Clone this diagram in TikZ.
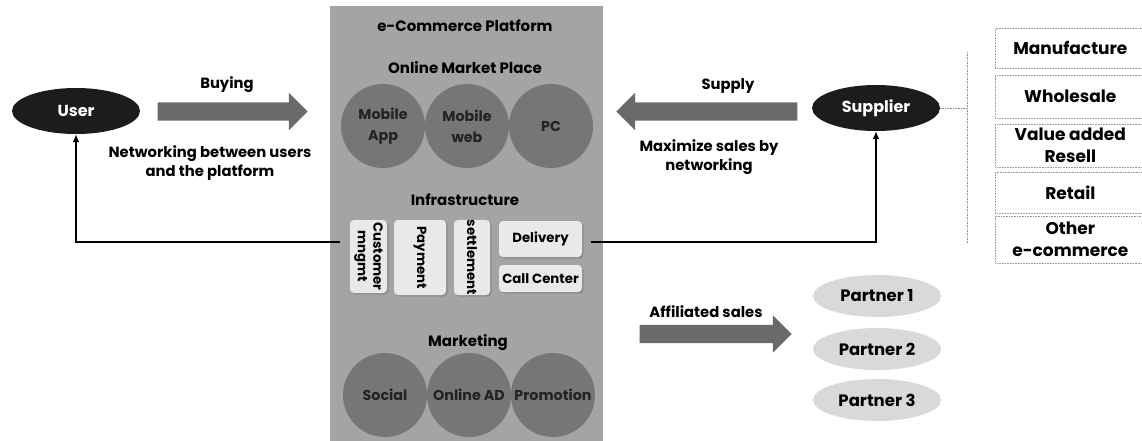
\documentclass[tikz,border=0pt]{standalone}
\usepackage{fontspec}
\setmainfont{Poppins}
\usetikzlibrary{shapes.geometric,shapes.arrows,shadows,arrows.meta}

\definecolor{platgray}{HTML}{A4A4A4}
\definecolor{ringgray}{HTML}{767676}
\definecolor{arrowgray}{HTML}{6A6A6A}
\definecolor{boxgray}{HTML}{E9E9E9}
\definecolor{partnergray}{HTML}{D9D9D9}
\definecolor{darkfill}{HTML}{1C1C1C}
\definecolor{ringtext}{HTML}{222222}

\begin{document}
\begin{tikzpicture}[x=1pt,y=-1pt,
  lbl/.style={font=\bfseries\fontsize{14.8}{19}\selectfont, align=center, inner sep=0pt},
  head/.style={font=\bfseries\fontsize{15}{18}\selectfont, inner sep=0pt},
  ring/.style={circle, fill=ringgray, minimum size=84pt, inner sep=0pt,
    font=\bfseries\fontsize{14.3}{21}\selectfont, text=ringtext, align=center},
  infobox/.style={rounded corners=4pt, fill=boxgray, inner sep=0pt,
    font=\bfseries\fontsize{13.3}{15.5}\selectfont, align=center,
    drop shadow={shadow xshift=1.5pt, shadow yshift=-1.5pt, fill=black!55}},
  party/.style={ellipse, fill=darkfill, text=white, minimum width=128pt,
    minimum height=46pt, inner sep=0pt, font=\bfseries\fontsize{16}{19}\selectfont},
  partner/.style={ellipse, fill=partnergray, minimum width=128pt,
    minimum height=42pt, inner sep=0pt, font=\bfseries\fontsize{16.5}{19}\selectfont},
  bigarrow/.style={single arrow, fill=arrowgray, inner sep=0pt, inner ysep=9pt,
    minimum width=0pt, single arrow head extend=9.5pt, single arrow tip angle=90},
  kindbox/.style={draw=black!40, densely dotted, line width=0.6pt,
    minimum width=150pt, anchor=west, inner sep=0pt,
    font=\bfseries\fontsize{17}{21.5}\selectfont, align=center},
  conn/.style={line width=1.6pt, -{Latex[length=8pt,width=7pt]}},
  dotline/.style={draw=black!45, densely dotted, line width=0.6pt}]
\useasboundingbox (0,0) rectangle (1142,440);

% platform panel
\node[fill=platgray, minimum width=273pt, minimum height=440pt, inner sep=0pt]
  (plat) at (466.5,226) {};
\node[head] (title) at (465,26) {e-Commerce Platform};
\node[head] (omp) at (465,68) {Online Market Place};
\node[ring] (mapp) at (383,126) {Mobile\\App};
\node[ring] (mweb) at (467,126) {Mobile\\web};
\node[ring] (pc) at (551,126) {PC};

\node[head] (infra) at (465,200) {Infrastructure};
\node[infobox, rotate=-90, minimum width=73pt, minimum height=37pt]
  (cust) at (368.5,256.5) {Customer\\mngmt};
\node[infobox, rotate=-90, minimum width=75pt, minimum height=52pt]
  (pay) at (420,257.5) {Payment};
\node[infobox, rotate=-90, minimum width=75pt, minimum height=36pt]
  (settle) at (472,257.5) {settlement};
\node[infobox, minimum width=83pt, minimum height=36pt]
  (deliv) at (540.5,239) {Delivery};
\node[infobox, minimum width=83pt, minimum height=27pt]
  (call) at (540.5,278.5) {Call Center};

\node[head] (mkt) at (468,343) {Marketing};
\node[ring] (social) at (385,395) {Social};
\node[ring] (oad) at (469,395) {Online AD};
\node[ring] (promo) at (553,395) {Promotion};

% user side
\node[party] (user) at (76,111) {User};
\node[bigarrow, minimum height=150pt] (buy) at (228,111.5) {};
\node[lbl] (buylbl) at (227,85) {Buying};
\node[lbl] (netlbl) at (210,163) {Networking between users\\and the platform};

% supplier side
\node[party] (sup) at (876,108) {Supplier};
\node[bigarrow, shape border rotate=180, minimum height=181pt] (supply) at (711.5,111.5) {};
\node[lbl] (suplbl) at (728,86) {Supply};
\node[lbl] (maxlbl) at (709,157) {Maximize sales by\\networking};

% affiliates
\node[bigarrow, minimum height=152pt] (aff) at (711,334) {};
\node[lbl] (afflbl) at (706,312) {Affiliated sales};
\node[partner] (p1) at (877,296) {Partner 1};
\node[partner] (p2) at (877,349) {Partner 2};
\node[partner] (p3) at (877,400) {Partner 3};

% supplier categories
\node[kindbox, minimum height=40pt] (k1) at (995,48) {Manufacture};
\node[kindbox, minimum height=43pt] (k2) at (995,96.5) {Wholesale};
\node[kindbox, minimum height=43pt] (k3) at (995,145.5) {Value added\\Resell};
\node[kindbox, minimum height=41pt] (k4) at (995,192.5) {Retail};
\node[kindbox, minimum height=47pt] (k5) at (995,239.5) {Other\\e-commerce};

% connectors
\coordinate (lstart) at (340,242);
\coordinate (rstart) at (591,242);
\draw[conn] (lstart) -| (user.south);
\draw[conn] (rstart) -| (sup.south);
\coordinate (vtop) at (967,52);
\coordinate (vbot) at (967,243);
\draw[dotline] (vtop) -- (vbot);
\draw[dotline] (sup.east) -- (sup.east -| vtop);
\end{tikzpicture}
\end{document}
